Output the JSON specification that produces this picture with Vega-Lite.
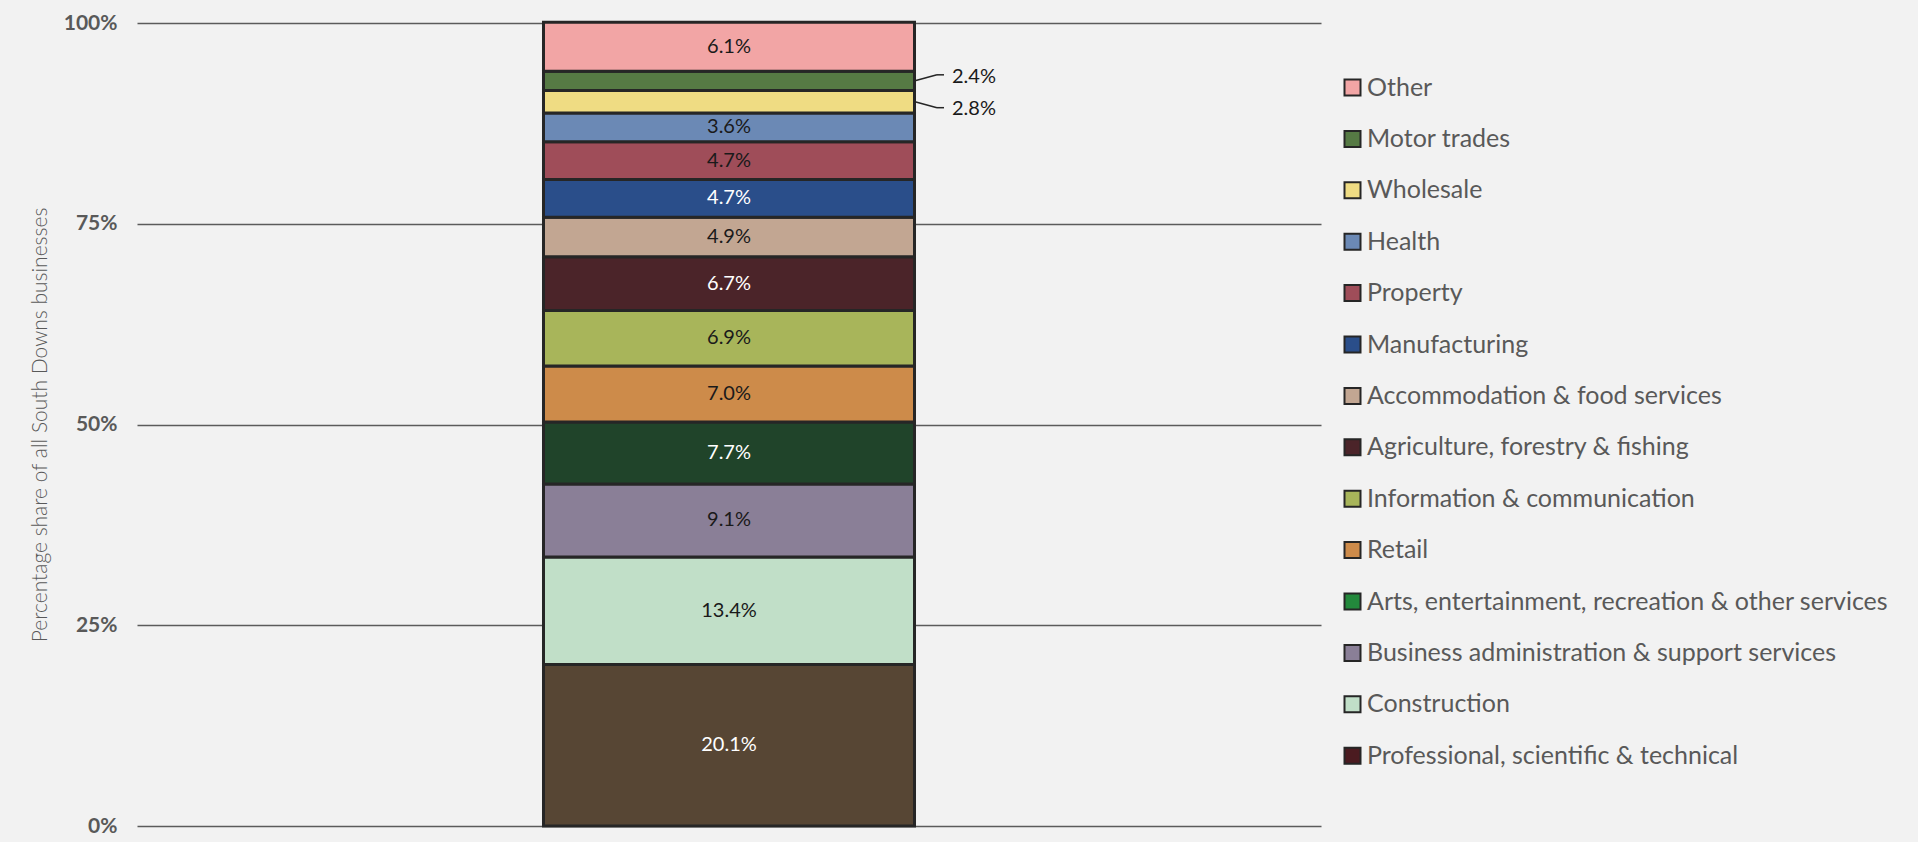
{
  "$schema": "https://vega.github.io/schema/vega-lite/v6.json",
  "width": 1184,
  "height": 803,
  "autosize": {"type": "none"},
  "padding": {"left": 137, "top": 23, "right": 597, "bottom": 16},
  "background": "#f2f2f2",
  "config": {
    "view": {"stroke": null},
    "font": "Lato",
    "axisY": {
      "domain": false,
      "ticks": false,
      "labelPadding": 20,
      "labelFont": "Lato",
      "labelFontSize": 21,
      "labelFontWeight": "bold",
      "labelColor": "#595959",
      "gridColor": "#5b5b5b",
      "gridWidth": 1.3,
      "titleFont": "Lato",
      "titleFontSize": 21,
      "titleFontWeight": 300,
      "titleColor": "#595959",
      "titlePadding": 13
    }
  },
  "data": {
    "values": [
      {"sector": "Professional, scientific & technical", "value": 20.1, "order": 1},
      {"sector": "Construction", "value": 13.4, "order": 2},
      {"sector": "Business administration & support services", "value": 9.1, "order": 3},
      {"sector": "Arts, entertainment, recreation & other services", "value": 7.7, "order": 4},
      {"sector": "Retail", "value": 7.0, "order": 5},
      {"sector": "Information & communication", "value": 6.9, "order": 6},
      {"sector": "Agriculture, forestry & fishing", "value": 6.7, "order": 7},
      {"sector": "Accommodation & food services", "value": 4.9, "order": 8},
      {"sector": "Manufacturing", "value": 4.7, "order": 9},
      {"sector": "Property", "value": 4.7, "order": 10},
      {"sector": "Health", "value": 3.6, "order": 11},
      {"sector": "Wholesale", "value": 2.8, "order": 12},
      {"sector": "Motor trades", "value": 2.4, "order": 13},
      {"sector": "Other", "value": 6.1, "order": 14}
    ]
  },
  "transform": [
    {"stack": "value", "groupby": [], "sort": [{"field": "order", "order": "ascending"}], "as": ["y0", "y1"]},
    {"calculate": "(datum.y0 + datum.y1) / 2", "as": "mid"},
    {"calculate": "format(datum.value, '.1f') + '%'", "as": "label"}
  ],
  "encoding": {
    "x": {"datum": "South Downs", "type": "nominal", "axis": null, "scale": {"paddingInner": 0.0873, "paddingOuter": 1}}
  },
  "layer": [
    {
      "mark": {"type": "bar", "stroke": "#262626", "strokeWidth": 3},
      "encoding": {
        "y": {"field": "y0", "type": "quantitative", "scale": {"domain": [0, 100], "nice": false}, "title": "Percentage share of all South Downs businesses", "axis": {"values": [0, 25, 50, 75, 100], "labelExpr": "datum.value + '%'"}},
        "y2": {"field": "y1"},
        "fill": {
          "field": "sector", "type": "nominal", "legend": null,
          "scale": {
            "domain": ["Professional, scientific & technical", "Construction", "Business administration & support services", "Arts, entertainment, recreation & other services", "Retail", "Information & communication", "Agriculture, forestry & fishing", "Accommodation & food services", "Manufacturing", "Property", "Health", "Wholesale", "Motor trades", "Other"],
            "range": ["#574634", "#c1dfc8", "#8a7f97", "#20442a", "#cd8b4a", "#a8b55a", "#4b2429", "#c2a692", "#2a4e8a", "#9f4d59", "#6b89b5", "#efdc83", "#567a44", "#f2a5a5"]
          }
        }
      }
    },
    {
      "mark": {"type": "square", "opacity": 0},
      "encoding": {
        "y": {"field": "y1", "type": "quantitative", "scale": {"domain": [0, 100], "nice": false}, "title": "Percentage share of all South Downs businesses"},
        "color": {
          "field": "sector", "type": "nominal",
          "scale": {
            "domain": ["Other", "Motor trades", "Wholesale", "Health", "Property", "Manufacturing", "Accommodation & food services", "Agriculture, forestry & fishing", "Information & communication", "Retail", "Arts, entertainment, recreation & other services", "Business administration & support services", "Construction", "Professional, scientific & technical"],
            "range": ["#f2a5a5", "#567a44", "#efdc83", "#6b89b5", "#9f4d59", "#2a4e8a", "#c2a692", "#4b2429", "#a8b55a", "#cd8b4a", "#23893c", "#8a7f97", "#c1dfc8", "#4b1b20"]
          },
          "legend": {
            "title": null,
            "orient": "none",
            "legendX": 1203,
            "legendY": 52,
            "symbolType": "square",
            "symbolSize": 256,
            "symbolStrokeColor": "#262626",
            "symbolStrokeWidth": 2,
            "symbolOpacity": 1,
            "labelFont": "Lato",
            "labelFontSize": 25,
            "labelColor": "#595959",
            "labelOffset": 2,
            "rowPadding": 25.4,
            "labelLimit": 0
          }
        }
      }
    },
    {
      "transform": [{"filter": "datum.value >= 3"}],
      "mark": {"type": "text", "font": "Lato", "fontSize": 20, "baseline": "middle"},
      "encoding": {
        "y": {"field": "mid", "type": "quantitative", "scale": {"domain": [0, 100], "nice": false}, "title": "Percentage share of all South Downs businesses"},
        "text": {"field": "label"},
        "color": {
          "condition": {"test": "indexof(['Professional, scientific & technical', 'Arts, entertainment, recreation & other services', 'Agriculture, forestry & fishing', 'Manufacturing'], datum.sector) >= 0", "value": "#ffffff"},
          "value": "#1a1a1a"
        }
      }
    },
    {
      "transform": [{"filter": "datum.sector == 'Motor trades'"}],
      "layer": [
        {
          "mark": {"type": "text", "font": "Lato", "fontSize": 20, "baseline": "middle", "align": "left", "dx": 223, "dy": -4, "color": "#1a1a1a"},
          "encoding": {
            "y": {"field": "mid", "type": "quantitative", "scale": {"domain": [0, 100], "nice": false}, "title": "Percentage share of all South Downs businesses"},
            "text": {"field": "label"}
          }
        },
        {
          "mark": {"type": "rule", "color": "#262626", "strokeWidth": 1.5, "xOffset": 186, "x2Offset": 208, "y2Offset": -6},
          "encoding": {
            "x2": {"datum": "South Downs"},
            "y": {"field": "mid", "type": "quantitative", "scale": {"domain": [0, 100], "nice": false}, "title": "Percentage share of all South Downs businesses"},
            "y2": {"field": "mid"}
          }
        },
        {
          "mark": {"type": "rule", "color": "#262626", "strokeWidth": 1.5, "xOffset": 208, "x2Offset": 215, "yOffset": -6, "y2Offset": -6},
          "encoding": {
            "x2": {"datum": "South Downs"},
            "y": {"field": "mid", "type": "quantitative", "scale": {"domain": [0, 100], "nice": false}, "title": "Percentage share of all South Downs businesses"},
            "y2": {"field": "mid"}
          }
        }
      ]
    },
    {
      "transform": [{"filter": "datum.sector == 'Wholesale'"}],
      "layer": [
        {
          "mark": {"type": "text", "font": "Lato", "fontSize": 20, "baseline": "middle", "align": "left", "dx": 223, "dy": 7, "color": "#1a1a1a"},
          "encoding": {
            "y": {"field": "mid", "type": "quantitative", "scale": {"domain": [0, 100], "nice": false}, "title": "Percentage share of all South Downs businesses"},
            "text": {"field": "label"}
          }
        },
        {
          "mark": {"type": "rule", "color": "#262626", "strokeWidth": 1.5, "xOffset": 186, "x2Offset": 208, "y2Offset": 6},
          "encoding": {
            "x2": {"datum": "South Downs"},
            "y": {"field": "mid", "type": "quantitative", "scale": {"domain": [0, 100], "nice": false}, "title": "Percentage share of all South Downs businesses"},
            "y2": {"field": "mid"}
          }
        },
        {
          "mark": {"type": "rule", "color": "#262626", "strokeWidth": 1.5, "xOffset": 208, "x2Offset": 215, "yOffset": 6, "y2Offset": 6},
          "encoding": {
            "x2": {"datum": "South Downs"},
            "y": {"field": "mid", "type": "quantitative", "scale": {"domain": [0, 100], "nice": false}, "title": "Percentage share of all South Downs businesses"},
            "y2": {"field": "mid"}
          }
        }
      ]
    }
  ]
}
